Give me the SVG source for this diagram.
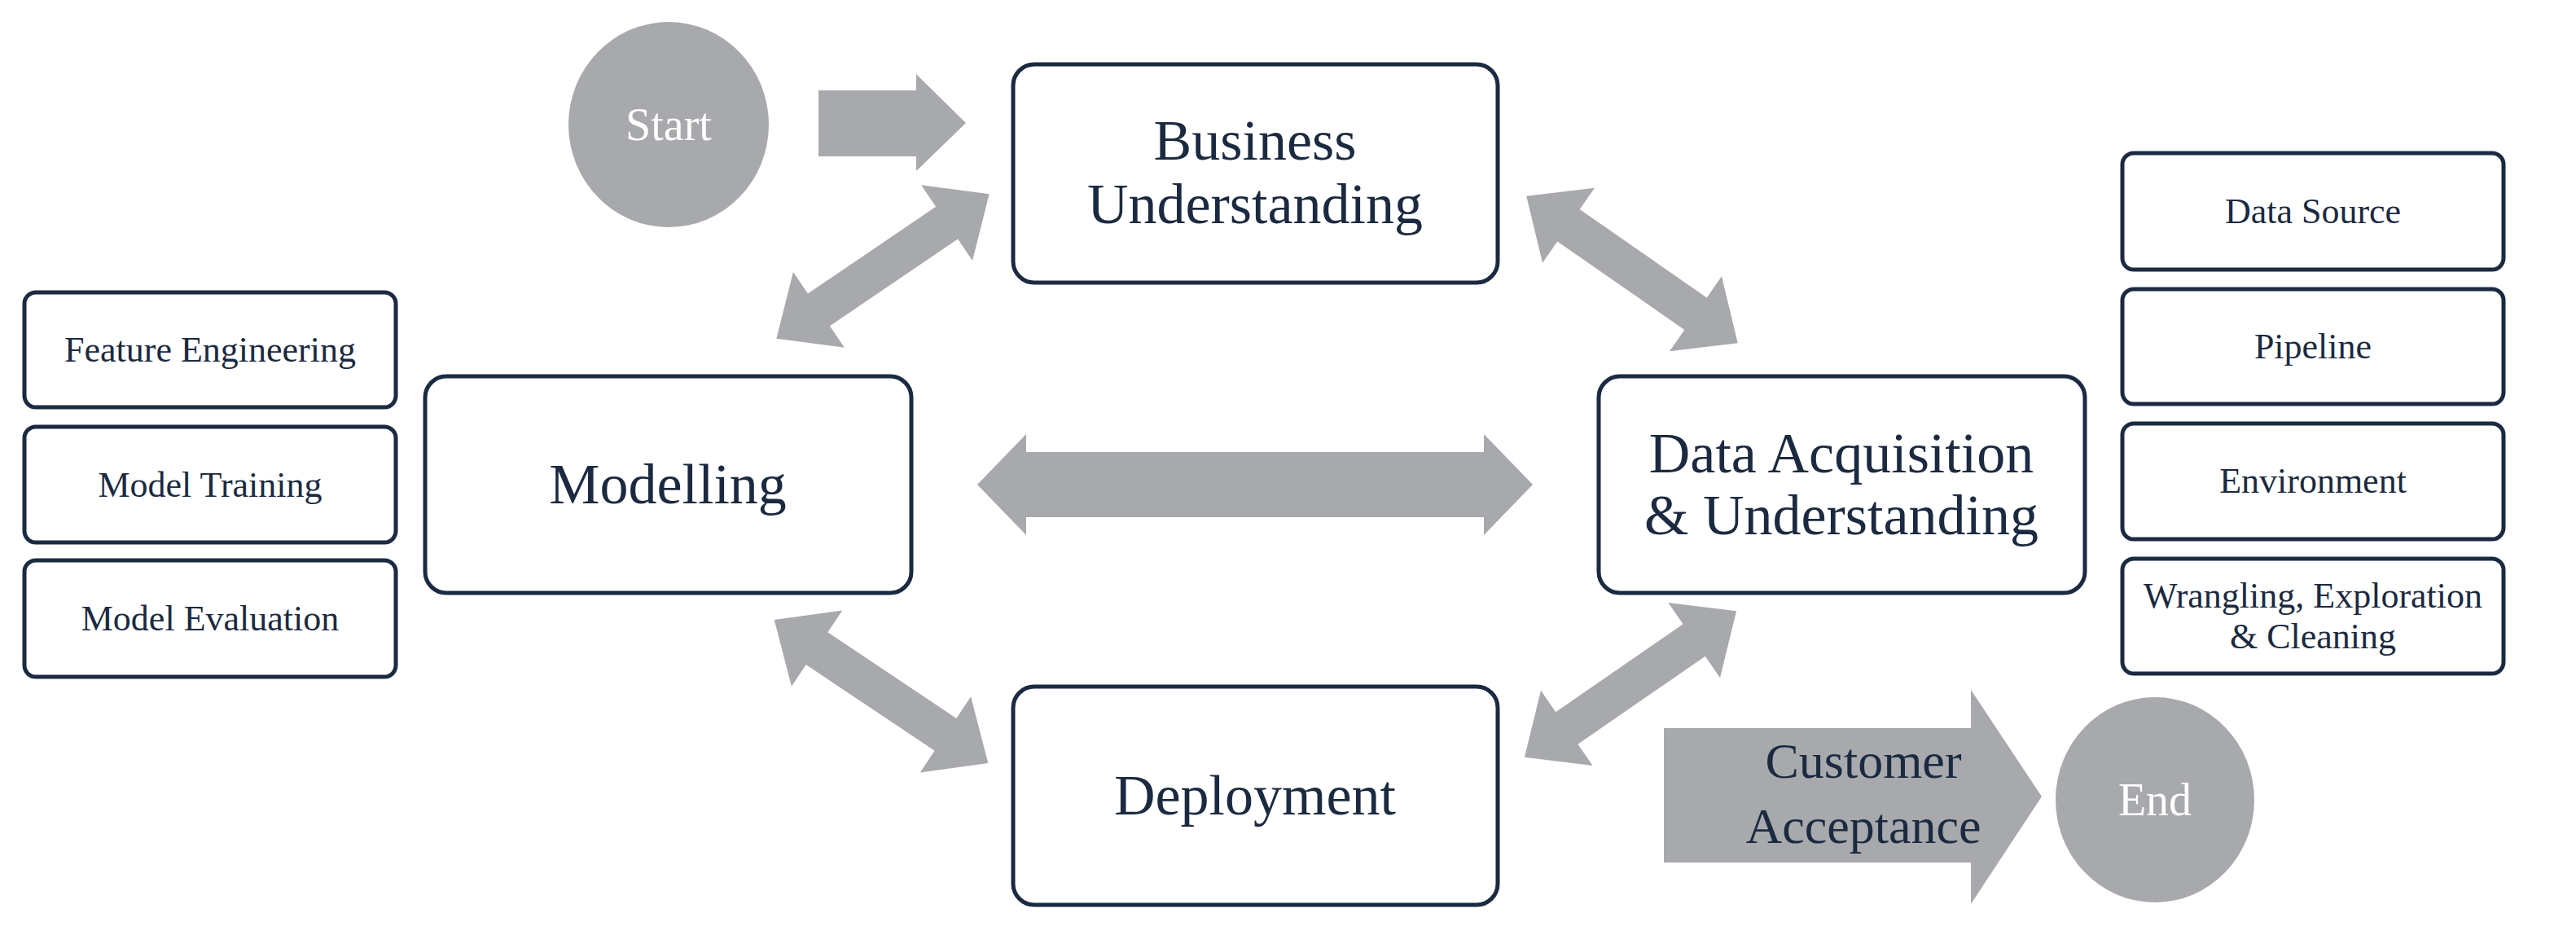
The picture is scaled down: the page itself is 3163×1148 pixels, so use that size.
<svg xmlns="http://www.w3.org/2000/svg" width="3163" height="1148" viewBox="0 0 3163 1148">
<style>
.box{fill:#fff;stroke:#1b2a40;stroke-width:5}
.t{font-family:"Liberation Serif","Times New Roman",serif;fill:#1b2a40;text-anchor:middle}
.big{font-size:70px}
.sm{font-size:44px}
.arr{fill:#a7a9ac}
</style>
<rect width="3163" height="1148" fill="#fff"/>
<g id="start"><ellipse cx="821" cy="153" rx="123" ry="126" class="arr"/><text x="821" y="172" class="t" style="font-size:56px;fill:#fff">Start</text></g>
<g id="end"><ellipse cx="2646" cy="982" rx="122" ry="126" class="arr"/><text x="2646" y="1001" class="t" style="font-size:56px;fill:#fff">End</text></g>
<g id="business"><rect x="1244" y="79" width="595" height="268" rx="26" class="box"/><text x="1541" y="196" class="t big">Business</text><text x="1541" y="274" class="t big">Understanding</text></g>
<g id="modelling"><rect x="522" y="462" width="597" height="266" rx="26" class="box"/><text x="820" y="618" class="t big">Modelling</text></g>
<g id="data"><rect x="1963" y="462" width="597" height="266" rx="26" class="box"/><text x="2261" y="580" class="t big">Data Acquisition</text><text x="2261" y="656" class="t big">&amp; Understanding</text></g>
<g id="deployment"><rect x="1244" y="843" width="595" height="268" rx="26" class="box"/><text x="1541" y="1000" class="t big">Deployment</text></g>
<g id="fe"><rect x="30" y="359" width="456" height="141" rx="14" class="box"/><text x="258" y="444" class="t sm">Feature Engineering</text></g>
<g id="mt"><rect x="30" y="524" width="456" height="142" rx="14" class="box"/><text x="258" y="610" class="t sm">Model Training</text></g>
<g id="me"><rect x="30" y="688" width="456" height="143" rx="14" class="box"/><text x="258" y="774" class="t sm">Model Evaluation</text></g>
<g id="ds"><rect x="2606" y="188" width="468" height="143" rx="14" class="box"/><text x="2840" y="274" class="t sm">Data Source</text></g>
<g id="pl"><rect x="2606" y="355" width="468" height="141" rx="14" class="box"/><text x="2840" y="440" class="t sm">Pipeline</text></g>
<g id="env"><rect x="2606" y="520" width="468" height="142" rx="14" class="box"/><text x="2840" y="605" class="t sm">Environment</text></g>
<g id="wr"><rect x="2606" y="686" width="468" height="141" rx="14" class="box"/><text x="2840" y="746" class="t sm">Wrangling, Exploration</text><text x="2840" y="796" class="t sm">&amp; Cleaning</text></g>
<g id="connectors">
<polygon class="arr" points="1005,111 1125,111 1125,91 1186,151 1125,210 1125,192 1005,192"/>
<polygon class="arr" points="-341,0 -281,-62 -281,-40 281,-40 281,-62 341,0 281,62 281,40 -281,40 -281,62" transform="translate(1541,595)"/>
<g transform="translate(1084,327) rotate(-34.2)"><polygon class="arr" points="-158,0 -95,-56 -95,-24 95,-24 95,-56 158,0 95,56 95,24 -95,24 -95,56"/></g>
<g transform="translate(2004,331) rotate(34.8)"><polygon class="arr" points="-158,0 -95,-56 -95,-24 95,-24 95,-56 158,0 95,56 95,24 -95,24 -95,56"/></g>
<g transform="translate(1082,849) rotate(33.8)"><polygon class="arr" points="-158,0 -95,-56 -95,-24 95,-24 95,-56 158,0 95,56 95,24 -95,24 -95,56"/></g>
<g transform="translate(2002,840) rotate(-34.6)"><polygon class="arr" points="-158,0 -95,-56 -95,-24 95,-24 95,-56 158,0 95,56 95,24 -95,24 -95,56"/></g>
<polygon class="arr" points="2043,894 2420,894 2420,847 2507,978 2420,1110 2420,1059 2043,1059"/>
<text x="2288" y="955" class="t" style="font-size:62px">Customer</text>
<text x="2288" y="1035" class="t" style="font-size:62px">Acceptance</text>
</g>
</svg>
